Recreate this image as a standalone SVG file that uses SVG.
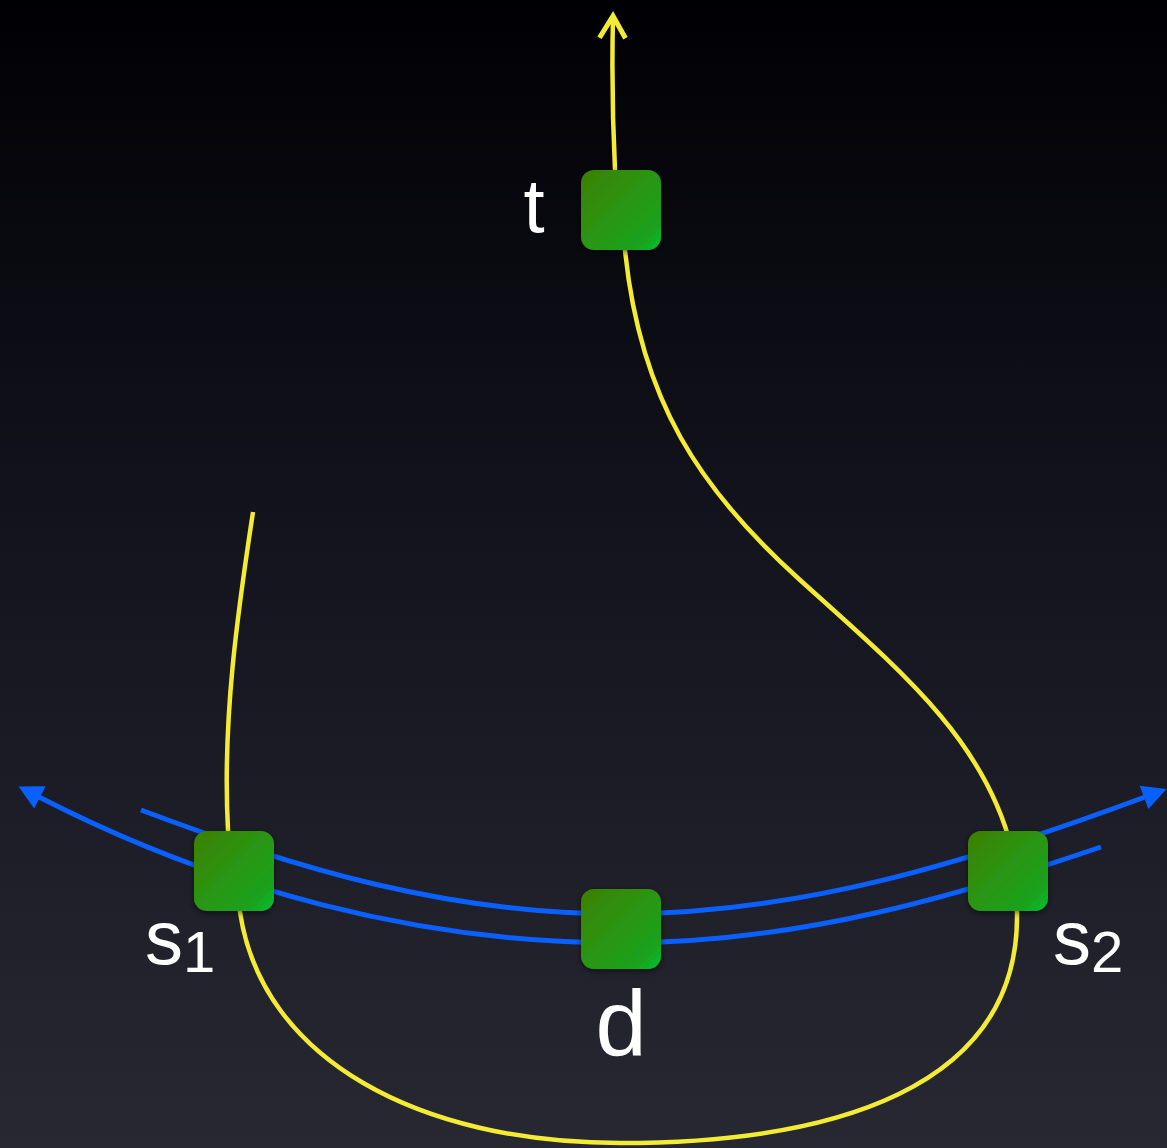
<svg xmlns="http://www.w3.org/2000/svg" width="1167" height="1148" viewBox="0 0 1167 1148">
  <defs>
    <linearGradient id="bg" x1="0" y1="0" x2="0" y2="1">
      <stop offset="0" stop-color="#000004"/>
      <stop offset="0.45" stop-color="#13131d"/>
      <stop offset="1" stop-color="#272832"/>
    </linearGradient>
    <linearGradient id="nodeFill" x1="0" y1="0" x2="1" y2="1">
      <stop offset="0" stop-color="#3c8000"/>
      <stop offset="0.5" stop-color="#2a9614"/>
      <stop offset="0.82" stop-color="#1aa21c"/>
      <stop offset="1" stop-color="#00c234"/>
    </linearGradient>
    <filter id="shadow" x="-30%" y="-30%" width="160%" height="160%">
      <feDropShadow dx="0" dy="2" stdDeviation="3" flood-color="#000000" flood-opacity="0.55"/>
    </filter>
    <marker id="chevron" markerUnits="userSpaceOnUse" viewBox="-26 -16 30 32" refX="0" refY="0" markerWidth="30" markerHeight="32" orient="auto" overflow="visible">
      <path d="M-22,-13 L0,0 L-22,13" fill="none" stroke="#f4ec34" stroke-width="5" stroke-linejoin="miter"/>
    </marker>
    <marker id="blueArrow" markerUnits="userSpaceOnUse" viewBox="-2 -13 26 26" refX="0" refY="0" markerWidth="26" markerHeight="26" orient="auto-start-reverse" overflow="visible">
      <path d="M-1,-12.5 L23,0 L-1,12.5 z" fill="#0a60ff"/>
    </marker>
    <style>
      .yellow { fill: none; stroke: #f4ec34; stroke-width: 4.5; }
      .blue { fill: none; stroke: #0a60ff; stroke-width: 5; }
      .node { fill: url(#nodeFill); filter: url(#shadow); }
      .label { fill: #ffffff; font-family: "Liberation Sans", Arial, sans-serif; }
    </style>
  </defs>

  <rect x="0" y="0" width="1167" height="1148" fill="url(#bg)"/>

  <g id="connectors">
    <path class="yellow" marker-end="url(#chevron)" d="M253,512 C238,610 222,720 228,830 L240,912 C262,1060 420,1143 620,1143 C830,1143 1020,1090 1017,912 L1012,850 C985,740 900,670 800,580 C700,490 640,400 625,250 L615,170 C612,110 612,60 613,16"/>
    <path class="blue" marker-end="url(#blueArrow)" d="M141,810 C300,870 450,914 620,914 C800,914 970,862 1145,797"/>
    <path class="blue" marker-start="url(#blueArrow)" d="M39,797 C220,890 420,943 620,943 C800,943 960,895 1101,847"/>
  </g>

  <g id="node-t">
    <rect class="node" x="581" y="170" width="80" height="80" rx="13"/>
    <text class="label" x="534" y="232" font-size="76" text-anchor="middle">t</text>
  </g>
  <g id="node-s1">
    <rect class="node" x="194" y="831" width="80" height="80" rx="13"/>
    <text class="label" x="145" y="964" font-size="76">s<tspan dy="8" font-size="58">1</tspan></text>
  </g>
  <g id="node-d">
    <rect class="node" x="581" y="889" width="80" height="80" rx="13"/>
    <text class="label" x="621" y="1055" font-size="92" text-anchor="middle">d</text>
  </g>
  <g id="node-s2">
    <rect class="node" x="968" y="831" width="80" height="80" rx="13"/>
    <text class="label" x="1053" y="964" font-size="76">s<tspan dy="8" font-size="58">2</tspan></text>
  </g>
</svg>
